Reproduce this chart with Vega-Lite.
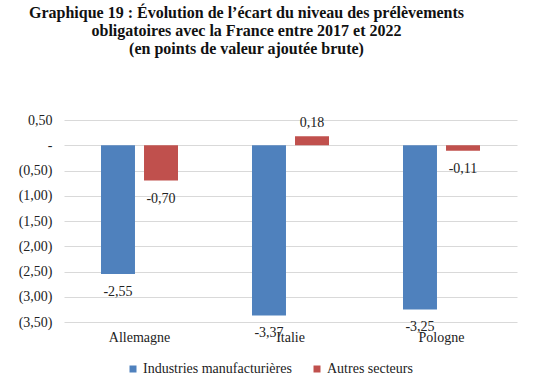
{
  "$schema": "https://vega.github.io/schema/vega-lite/v6.json",
  "width": 453,
  "height": 202,
  "autosize": {"type": "none"},
  "padding": {"left": 64, "top": 120, "right": 19, "bottom": 56},
  "background": "white",
  "title": {
    "text": ["Graphique 19 : Évolution de l’écart du niveau des prélèvements", "obligatoires avec la France entre 2017 et 2022", "(en points de valeur ajoutée brute)"],
    "font": "Liberation Serif",
    "fontSize": 16,
    "fontWeight": "bold",
    "color": "#111111",
    "anchor": "middle",
    "dx": -44,
    "offset": 56,
    "lineHeight": 18
  },
  "config": {
    "locale": {"number": {"decimal": ",", "thousands": " ", "grouping": [3], "currency": ["", " €"], "minus": "-"}},
    "view": {"stroke": null},
    "axis": {"labelFont": "Liberation Serif", "labelFontSize": 14, "labelColor": "#222222"},
    "legend": {"labelFont": "Liberation Serif", "labelFontSize": 14, "labelColor": "#222222"}
  },
  "data": {
    "values": [
      {"pays": "Allemagne", "serie": "Industries manufacturières", "valeur": -2.55},
      {"pays": "Allemagne", "serie": "Autres secteurs", "valeur": -0.70},
      {"pays": "Italie", "serie": "Industries manufacturières", "valeur": -3.37},
      {"pays": "Italie", "serie": "Autres secteurs", "valeur": 0.18},
      {"pays": "Pologne", "serie": "Industries manufacturières", "valeur": -3.25},
      {"pays": "Pologne", "serie": "Autres secteurs", "valeur": -0.11}
    ]
  },
  "encoding": {
    "x": {
      "field": "pays", "type": "nominal", "sort": ["Allemagne", "Italie", "Pologne"],
      "scale": {"paddingInner": 0, "paddingOuter": 0},
      "axis": {"title": null, "labelAngle": 0, "domain": false, "ticks": false, "labelPadding": 8, "grid": false}
    },
    "xOffset": {
      "field": "serie", "type": "nominal", "sort": ["Industries manufacturières", "Autres secteurs"],
      "scale": {"paddingInner": 0.21, "paddingOuter": 0.86}
    },
    "y": {
      "field": "valeur", "type": "quantitative",
      "scale": {"domain": [-3.5, 0.5], "nice": false, "zero": false},
      "axis": {
        "title": null, "domain": false, "ticks": false, "labelPadding": 12,
        "values": [-3.5, -3, -2.5, -2, -1.5, -1, -0.5, 0, 0.5],
        "gridColor": "#d9d9d9", "gridWidth": 1,
        "labelExpr": "datum.value == 0 ? '-' : (datum.value < 0 ? '(' + replace(format(-datum.value, '.2f'), '.', ',') + ')' : replace(format(datum.value, '.2f'), '.', ','))"
      }
    }
  },
  "layer": [
    {
      "mark": {"type": "bar"},
      "encoding": {
        "color": {
          "field": "serie", "type": "nominal",
          "scale": {"domain": ["Industries manufacturières", "Autres secteurs"], "range": ["#4F81BD", "#C0504D"]},
          "legend": {
            "title": null, "orient": "none", "direction": "horizontal",
            "legendX": 62, "legendY": 242,
            "symbolType": "square", "symbolSize": 49, "labelOffset": 3, "columnPadding": 18
          }
        }
      }
    },
    {
      "transform": [{"filter": "datum.valeur < 0"}],
      "mark": {"type": "text", "baseline": "top", "dy": 11, "font": "Liberation Serif", "fontSize": 14, "color": "#222222"},
      "encoding": {
        "text": {"field": "valeur", "type": "quantitative", "format": ".2f"}
      }
    },
    {
      "transform": [{"filter": "datum.valeur >= 0"}],
      "mark": {"type": "text", "baseline": "alphabetic", "dy": -9, "font": "Liberation Serif", "fontSize": 14, "color": "#222222"},
      "encoding": {
        "text": {"field": "valeur", "type": "quantitative", "format": ".2f"}
      }
    }
  ]
}
